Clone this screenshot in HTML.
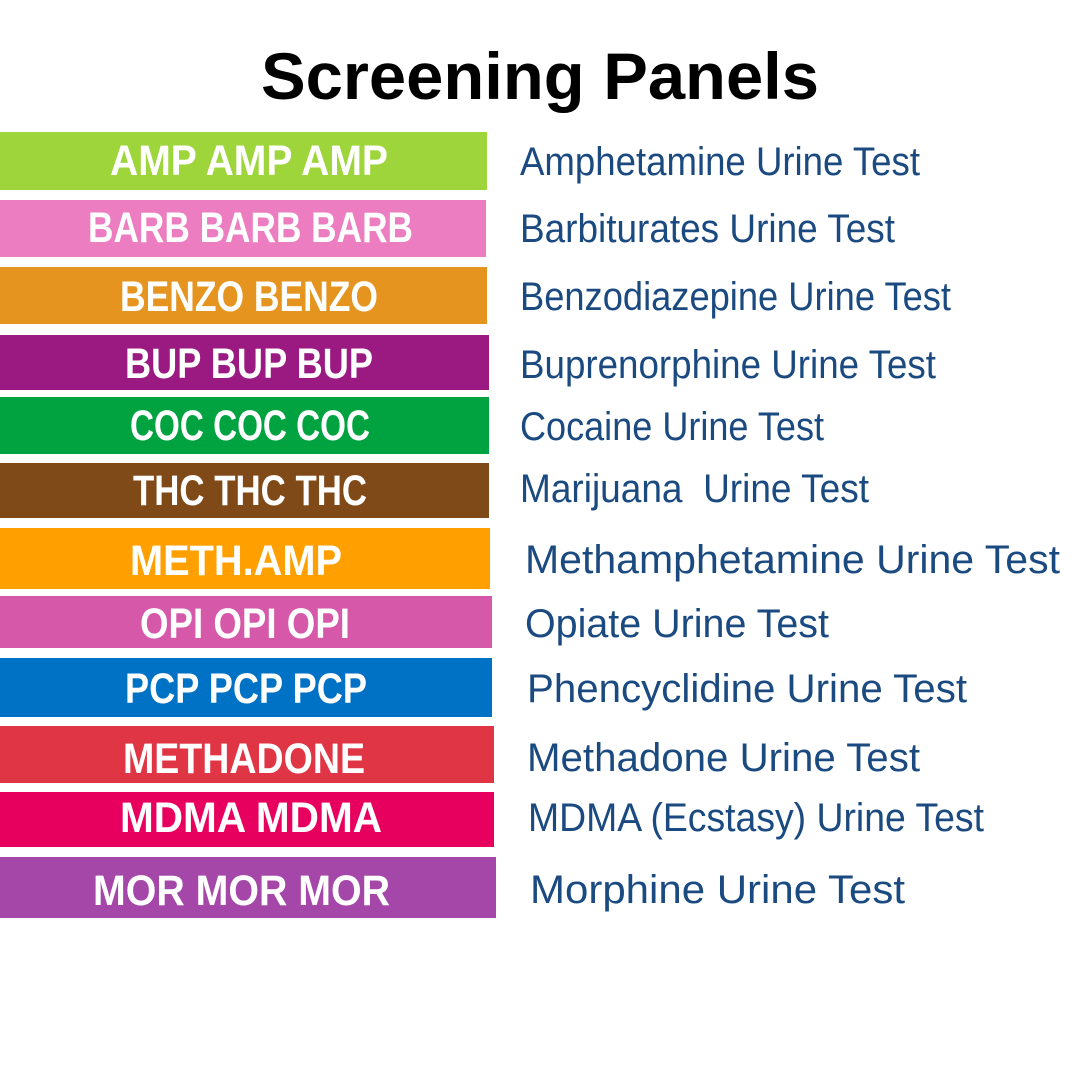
<!DOCTYPE html>
<html><head><meta charset="utf-8"><style>
html,body{margin:0;padding:0;background:#fff;}
svg{display:block;}
.t{font-family:"Liberation Sans Narrow","Liberation Sans",sans-serif;font-weight:bold;fill:#fff;font-size:43px;}
.r{font-family:"Liberation Sans Narrow","Liberation Sans",sans-serif;fill:#1a4a80;font-size:40px;}
</style></head><body>
<svg width="1080" height="1080" viewBox="0 0 1080 1080" xmlns="http://www.w3.org/2000/svg">
<rect width="1080" height="1080" fill="#fff"/>
<text x="261" y="99" font-family="Liberation Sans, sans-serif" font-weight="bold" font-size="66" textLength="558" lengthAdjust="spacingAndGlyphs" fill="#000">Screening Panels</text>

<rect x="0" y="132" width="487" height="58" fill="#9dd53a"/>
<rect x="0" y="200" width="486" height="57" fill="#ec7dc0"/>
<rect x="0" y="267" width="487" height="57" fill="#e5951f"/>
<rect x="0" y="335" width="489" height="55" fill="#9b1a82"/>
<rect x="0" y="397" width="489" height="57" fill="#00a33f"/>
<rect x="0" y="463" width="489" height="55" fill="#7f4a17"/>
<rect x="0" y="528" width="490" height="61" fill="#ffa000"/>
<rect x="0" y="596" width="492" height="52" fill="#d559a8"/>
<rect x="0" y="658" width="492" height="59" fill="#0072c6"/>
<rect x="0" y="726" width="494" height="57" fill="#e03545"/>
<rect x="0" y="792" width="494" height="55" fill="#e8005f"/>
<rect x="0" y="857" width="496" height="61" fill="#a447a8"/>

<text class="t" x="110" y="175" textLength="278" lengthAdjust="spacingAndGlyphs">AMP AMP AMP</text>
<text class="t" x="88" y="242" textLength="325" lengthAdjust="spacingAndGlyphs">BARB BARB BARB</text>
<text class="t" x="120" y="311" textLength="258" lengthAdjust="spacingAndGlyphs">BENZO BENZO</text>
<text class="t" x="125" y="378" textLength="248" lengthAdjust="spacingAndGlyphs">BUP BUP BUP</text>
<text class="t" x="130" y="440" textLength="240" lengthAdjust="spacingAndGlyphs">COC COC COC</text>
<text class="t" x="133" y="505" textLength="234" lengthAdjust="spacingAndGlyphs">THC THC THC</text>
<text class="t" x="130" y="575" textLength="212" lengthAdjust="spacingAndGlyphs">METH.AMP</text>
<text class="t" x="140" y="638" textLength="210" lengthAdjust="spacingAndGlyphs">OPI OPI OPI</text>
<text class="t" x="125" y="703" textLength="242" lengthAdjust="spacingAndGlyphs">PCP PCP PCP</text>
<text class="t" x="123" y="773" textLength="242" lengthAdjust="spacingAndGlyphs">METHADONE</text>
<text class="t" x="120" y="832" textLength="262" lengthAdjust="spacingAndGlyphs">MDMA MDMA</text>
<text class="t" x="93" y="905" textLength="297" lengthAdjust="spacingAndGlyphs">MOR MOR MOR</text>

<text class="r" x="520" y="175" textLength="400" lengthAdjust="spacingAndGlyphs">Amphetamine Urine Test</text>
<text class="r" x="520" y="242" textLength="375" lengthAdjust="spacingAndGlyphs">Barbiturates Urine Test</text>
<text class="r" x="520" y="310" textLength="431" lengthAdjust="spacingAndGlyphs">Benzodiazepine Urine Test</text>
<text class="r" x="520" y="378" textLength="416" lengthAdjust="spacingAndGlyphs">Buprenorphine Urine Test</text>
<text class="r" x="520" y="440" textLength="304" lengthAdjust="spacingAndGlyphs">Cocaine Urine Test</text>
<text class="r" x="520" y="502" textLength="349" lengthAdjust="spacingAndGlyphs" xml:space="preserve">Marijuana  Urine Test</text>
<text class="r" x="525" y="573" textLength="535" lengthAdjust="spacingAndGlyphs">Methamphetamine Urine Test</text>
<text class="r" x="525" y="637" textLength="304" lengthAdjust="spacingAndGlyphs">Opiate Urine Test</text>
<text class="r" x="527" y="702" textLength="440" lengthAdjust="spacingAndGlyphs">Phencyclidine Urine Test</text>
<text class="r" x="527" y="771" textLength="393" lengthAdjust="spacingAndGlyphs">Methadone Urine Test</text>
<text class="r" x="528" y="831" textLength="456" lengthAdjust="spacingAndGlyphs">MDMA (Ecstasy) Urine Test</text>
<text class="r" x="530" y="903" textLength="375" lengthAdjust="spacingAndGlyphs">Morphine Urine Test</text>
</svg>
</body></html>
